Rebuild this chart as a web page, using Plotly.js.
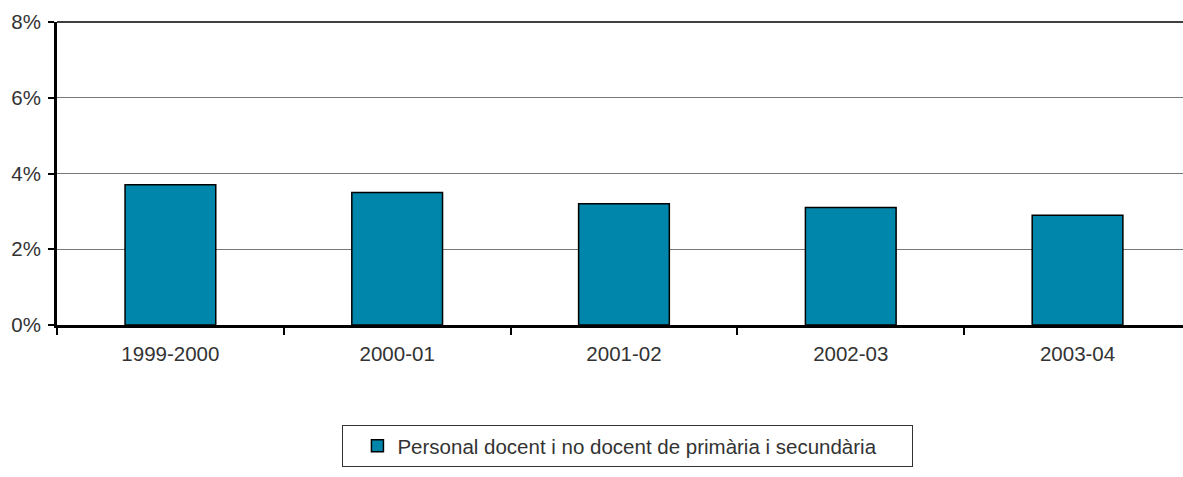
<!DOCTYPE html>
<html>
<head>
<meta charset="utf-8">
<script src="https://cdn.plot.ly/plotly-3.0.1.min.js"></script>
<style>html,body{margin:0;padding:0;background:#fff;}#chart{width:1183px;height:477px;}</style>
</head>
<body>
<div id="chart"></div>
<script>
const categories = ["1999-2000", "2000-01", "2001-02", "2002-03", "2003-04"];
const values = [3.7, 3.5, 3.2, 3.1, 2.9];
const seriesName = "Personal docent i no docent de primària i secundària";
const yTickVals = [0, 2, 4, 6, 8];
const yTickText = ["0%", "2%", "4%", "6%", "8%"];

const font = {family: "Liberation Sans, Arial, sans-serif", size: 20.5, color: "#333"};

const trace = {
  type: "bar",
  x: categories,
  y: values,
  name: seriesName,
  width: 0.4,
  marker: {color: "#0086AA", line: {color: "#000", width: 1.5}},
  showlegend: true,
  hoverinfo: "x+y"
};

const layout = {
  width: 1183,
  height: 477,
  margin: {l: 57, r: 0, t: 22, b: 152},
  paper_bgcolor: "#fff",
  plot_bgcolor: "#fff",
  font: font,
  xaxis: {
    type: "category",
    range: [-0.5, 4.465],
    tickson: "boundaries",
    ticks: "outside",
    ticklen: 7,
    tickwidth: 2,
    tickcolor: "#000",
    showline: true,
    linecolor: "#000",
    linewidth: 3,
    showgrid: false,
    zeroline: false,
    tickfont: font,
    ticklabelstandoff: 8
  },
  yaxis: {
    range: [0, 8],
    tickvals: yTickVals,
    ticktext: yTickText,
    ticks: "outside",
    ticklen: 6,
    tickwidth: 2,
    tickcolor: "#000",
    showline: true,
    linecolor: "#000",
    linewidth: 3,
    showgrid: true,
    gridcolor: "#777",
    gridwidth: 1,
    zeroline: false,
    tickfont: font,
    ticklabelstandoff: 3
  },
  shapes: [
    {type: "line", xref: "paper", yref: "paper", x0: 0, x1: 1, y0: 1, y1: 1, line: {color: "#000", width: 1.5}, layer: "above"}
  ],
  legend: {
    orientation: "h",
    x: 0.2535, xanchor: "left",
    y: -0.33, yanchor: "top",
    bordercolor: "#333",
    borderwidth: 1,
    font: font,
    entrywidth: 510,
    entrywidthmode: "pixels",
    indentation: 14,
    itemclick: false
  },
  showlegend: true
};

Plotly.newPlot("chart", [trace], layout, {displayModeBar: false, staticPlot: true});
</script>
</body>
</html>
